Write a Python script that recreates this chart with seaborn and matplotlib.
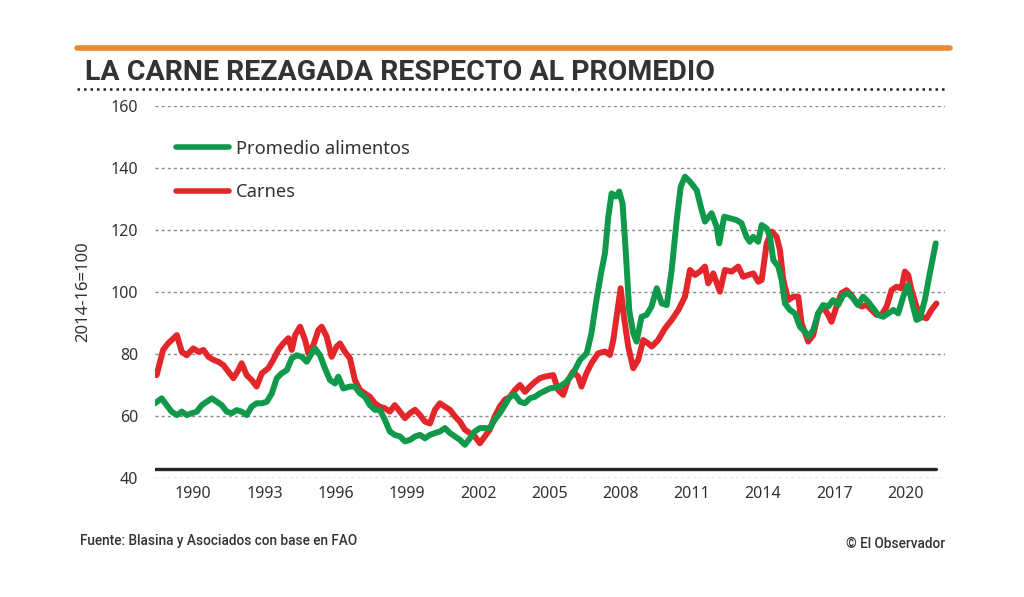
import matplotlib
matplotlib.use("Agg")
import matplotlib.pyplot as plt
import seaborn as sns
import pandas as pd
from matplotlib.lines import Line2D

# Indice FAO (2014-16=100)
t_alimentos = [
    1988.39, 1988.67, 1988.88, 1989.09, 1989.31, 1989.52, 1989.73, 1989.94, 1990.15, 1990.36,
    1990.57, 1990.78, 1990.99, 1991.20, 1991.41, 1991.62, 1991.83, 1992.04, 1992.25, 1992.46,
    1992.67, 1992.89, 1993.10, 1993.31, 1993.52, 1993.73, 1993.94, 1994.15, 1994.36, 1994.57,
    1994.78, 1994.99, 1995.13, 1995.34, 1995.55, 1995.76, 1995.97, 1996.11, 1996.32, 1996.60,
    1996.81, 1997.02, 1997.23, 1997.44, 1997.65, 1997.86, 1998.07, 1998.28, 1998.49, 1998.71,
    1998.92, 1999.13, 1999.34, 1999.55, 1999.76, 1999.97, 2000.18, 2000.39, 2000.60, 2000.81,
    2001.02, 2001.23, 2001.44, 2001.65, 2001.86, 2002.07, 2002.28, 2002.49, 2002.70, 2002.91,
    2003.12, 2003.34, 2003.55, 2003.76, 2003.97, 2004.18, 2004.39, 2004.60, 2005.02, 2005.44,
    2005.73, 2006.00, 2006.29, 2006.57, 2006.77, 2006.98, 2007.20, 2007.34, 2007.48, 2007.62,
    2007.80, 2007.94, 2008.08, 2008.22, 2008.36, 2008.53, 2008.67, 2008.88, 2009.09, 2009.30,
    2009.52, 2009.73, 2009.94, 2010.15, 2010.36, 2010.53, 2010.71, 2010.92, 2011.20, 2011.41,
    2011.55, 2011.83, 2012.04, 2012.15, 2012.36, 2012.60, 2012.88, 2013.09, 2013.30, 2013.44,
    2013.58, 2013.79, 2013.94, 2014.15, 2014.29, 2014.43, 2014.64, 2014.78, 2014.92, 2015.13,
    2015.34, 2015.55, 2015.76, 2015.90, 2016.11, 2016.32, 2016.53, 2016.74, 2016.95, 2017.16,
    2017.37, 2017.58, 2017.79, 2018.00, 2018.21, 2018.42, 2018.64, 2018.85, 2019.06, 2019.27,
    2019.48, 2019.69, 2019.90, 2020.11, 2020.25, 2020.46, 2020.60, 2020.81, 2021.02, 2021.27,
]
v_alimentos = [
    64.1, 65.7, 63.5, 61.4, 60.3, 61.4, 60.3, 60.9, 61.4, 63.5,
    64.6, 65.7, 64.6, 63.5, 61.4, 60.9, 61.9, 61.4, 60.3, 63.0,
    64.1, 64.1, 64.6, 67.3, 72.2, 73.8, 74.8, 78.6, 79.6, 79.1,
    77.5, 80.2, 81.8, 79.6, 75.3, 71.6, 70.5, 72.7, 68.9, 69.5,
    69.5, 67.3, 66.2, 63.5, 62.0, 62.0, 58.8, 55.0, 53.9, 53.4,
    51.8, 52.3, 53.4, 53.9, 52.8, 53.9, 54.5, 55.0, 56.1, 54.5,
    53.4, 52.3, 50.7, 52.8, 55.0, 56.1, 56.1, 56.1, 58.8, 60.9,
    63.5, 66.2, 66.8, 64.6, 64.1, 65.7, 66.2, 67.3, 68.9, 69.5,
    71.1, 73.8, 78.1, 80.2, 86.7, 97.4, 107.1, 112.5, 124.3, 131.8,
    130.8, 132.4, 128.6, 112.5, 94.2, 86.7, 84.0, 92.0, 92.6, 95.3,
    101.2, 96.3, 95.8, 107.1, 123.2, 134.0, 137.2, 135.6, 132.9, 126.5,
    122.7, 125.4, 121.1, 115.7, 124.3, 123.8, 123.2, 122.2, 117.8, 116.2,
    117.8, 116.2, 121.6, 120.5, 117.8, 110.3, 108.2, 103.9, 96.3, 94.2,
    93.1, 88.8, 87.2, 85.6, 87.7, 93.1, 95.8, 95.3, 97.4, 95.8,
    99.0, 99.6, 98.0, 95.8, 98.5, 96.9, 94.7, 92.6, 92.0, 93.1,
    94.2, 93.1, 98.5, 102.3, 97.4, 91.0, 91.5, 97.4, 106.0, 115.7,
]

t_carnes = [
    1988.46, 1988.73, 1988.94, 1989.31, 1989.52, 1989.73, 1990.00, 1990.22, 1990.43, 1990.64,
    1990.85, 1991.06, 1991.27, 1991.48, 1991.69, 1991.90, 1992.04, 1992.25, 1992.46, 1992.67,
    1992.89, 1993.16, 1993.37, 1993.58, 1993.79, 1994.01, 1994.15, 1994.29, 1994.50, 1994.71,
    1994.85, 1995.06, 1995.27, 1995.41, 1995.62, 1995.83, 1996.04, 1996.18, 1996.39, 1996.60,
    1996.81, 1997.02, 1997.23, 1997.44, 1997.65, 1997.86, 1998.07, 1998.28, 1998.49, 1998.71,
    1998.92, 1999.13, 1999.34, 1999.55, 1999.76, 1999.97, 2000.18, 2000.39, 2000.60, 2000.81,
    2001.02, 2001.23, 2001.44, 2001.65, 2001.86, 2002.07, 2002.28, 2002.49, 2002.70, 2002.91,
    2003.12, 2003.34, 2003.55, 2003.76, 2003.97, 2004.18, 2004.39, 2004.60, 2004.81, 2005.16,
    2005.37, 2005.58, 2005.79, 2006.00, 2006.21, 2006.35, 2006.56, 2006.77, 2007.05, 2007.34,
    2007.55, 2007.69, 2007.83, 2008.00, 2008.14, 2008.32, 2008.53, 2008.74, 2008.95, 2009.16,
    2009.31, 2009.58, 2009.87, 2010.15, 2010.43, 2010.71, 2010.92, 2011.13, 2011.34, 2011.55,
    2011.69, 2011.90, 2012.18, 2012.39, 2012.68, 2012.95, 2013.16, 2013.38, 2013.59, 2013.80,
    2013.94, 2014.15, 2014.36, 2014.57, 2014.71, 2014.85, 2015.06, 2015.27, 2015.48, 2015.62,
    2015.90, 2016.11, 2016.32, 2016.53, 2016.74, 2016.88, 2017.09, 2017.30, 2017.51, 2017.72,
    2017.94, 2018.15, 2018.36, 2018.57, 2018.78, 2018.99, 2019.20, 2019.41, 2019.62, 2019.83,
    2019.97, 2020.11, 2020.25, 2020.46, 2020.67, 2020.88, 2021.09, 2021.30,
]
v_carnes = [
    73.2, 81.3, 83.4, 86.1, 80.7, 79.6, 81.8, 80.7, 81.3, 79.1,
    78.1, 77.5, 76.4, 74.3, 72.2, 74.8, 77.0, 73.2, 71.6, 69.5,
    73.8, 75.4, 78.1, 81.3, 83.4, 85.1, 81.3, 86.1, 88.8, 84.5,
    80.2, 82.9, 87.7, 88.8, 85.6, 79.1, 82.4, 83.4, 80.7, 78.6,
    71.6, 68.4, 67.3, 66.2, 64.1, 63.0, 62.5, 61.4, 63.5, 61.4,
    59.3, 60.9, 62.0, 60.3, 58.2, 57.6, 62.0, 64.1, 63.0, 62.0,
    59.9, 58.2, 55.6, 54.5, 53.4, 51.2, 53.4, 55.6, 59.9, 63.0,
    65.2, 66.2, 68.4, 70.0, 67.8, 69.5, 71.0, 72.2, 72.7, 73.2,
    68.4, 66.8, 71.6, 74.3, 72.7, 69.5, 73.8, 77.0, 80.2, 80.8,
    79.7, 84.5, 92.0, 101.2, 92.0, 82.4, 75.4, 78.1, 84.5, 83.4,
    82.4, 84.5, 88.3, 91.0, 94.2, 98.5, 107.1, 105.5, 106.6, 108.2,
    102.8, 106.0, 100.1, 107.1, 106.6, 108.2, 104.9, 105.5, 106.0, 103.3,
    103.9, 115.7, 119.5, 117.8, 113.5, 103.9, 97.4, 98.5, 98.5, 89.9,
    84.0, 86.1, 93.1, 95.3, 92.6, 90.4, 95.3, 99.6, 100.6, 99.0,
    96.3, 95.3, 95.8, 94.2, 92.6, 92.6, 95.3, 100.6, 101.7, 101.2,
    106.6, 105.5, 100.6, 95.3, 92.0, 91.5, 94.2, 96.3,
]

year_ticks = [1990, 1993, 1996, 1999, 2002, 2005, 2008, 2011, 2014, 2017, 2020]
y_ticks = [40, 60, 80, 100, 120, 140, 160]

verde = "#10994a"
rojo = "#e2262a"
texto = "#333333"

df = pd.concat([
    pd.DataFrame({"t": t_carnes, "v": v_carnes, "serie": "Carnes"}),
    pd.DataFrame({"t": t_alimentos, "v": v_alimentos, "serie": "Promedio alimentos"}),
])

sns.set_theme(style="white")
plt.rcParams["font.family"] = ["Noto Sans", "DejaVu Sans"]

fig = plt.figure(figsize=(10.24, 5.97), dpi=100)
ax = fig.add_axes([155 / 1024, 1 - 478 / 597, 790 / 1024, 372 / 597])

sns.lineplot(data=df, x="t", y="v", hue="serie", estimator=None, sort=True,
             palette={"Carnes": rojo, "Promedio alimentos": verde},
             linewidth=4.3, ax=ax, legend=False)

ax.set_xlim(1988.39, 2021.66)
ax.set_ylim(40, 160)
ax.set_yticks(y_ticks)
ax.set_xticks(year_ticks)
for y in y_ticks:
    ax.axhline(y, color="#8a8a8a", lw=1.0, ls=(0, (2.2, 2.2)), zorder=0)
ax.axhline(42.9, xmin=0, xmax=0.989, color="#262626", lw=2.4, zorder=1)

for s in ax.spines.values():
    s.set_visible(False)
ax.tick_params(axis="both", length=0, labelcolor=texto)
ax.tick_params(axis="y", pad=12, labelsize=11.5)
ax.tick_params(axis="x", pad=6, labelsize=11.5)
ax.set_xlabel("")
ax.set_ylabel("2014-16=100", fontsize=12, color=texto, labelpad=14)

handles = [Line2D([], [], color=verde, lw=4, solid_capstyle="round"),
           Line2D([], [], color=rojo, lw=4, solid_capstyle="round")]
ax.legend(handles, ["Promedio alimentos", "Carnes"], loc="upper left",
          bbox_to_anchor=(0.015, 0.934), frameon=False, fontsize=13.2,
          handlelength=2.9, handletextpad=0.35, labelspacing=1.4,
          labelcolor=texto, borderpad=0)

# cabecera
fig.add_artist(Line2D([77 / 1024, 950 / 1024], [1 - 48 / 597, 1 - 48 / 597],
                      color="#e8892f", lw=4, solid_capstyle="round"))
fig.text(85 / 1024, 1 - 72 / 597, "LA CARNE REZAGADA RESPECTO AL PROMEDIO",
         fontsize=20.5, fontweight="bold", color=texto, va="center", ha="left",
         family=["Roboto", "DejaVu Sans"])
fig.add_artist(Line2D([77 / 1024, 947 / 1024], [1 - 89 / 597, 1 - 89 / 597],
                      color="#222222", lw=1.8, ls=(0, (1, 1.6))))

# pie
fig.text(80 / 1024, 1 - 541 / 597, "Fuente: Blasina y Asociados con base en FAO",
         fontsize=9.8, color=texto, va="center", ha="left",
         family=["Roboto", "DejaVu Sans"], fontweight="medium")
fig.text(945 / 1024, 1 - 544 / 597, "© El Observador",
         fontsize=9.8, color=texto, va="center", ha="right",
         family=["Roboto", "DejaVu Sans"], fontweight="medium")

fig.savefig("out.png", dpi=100)
